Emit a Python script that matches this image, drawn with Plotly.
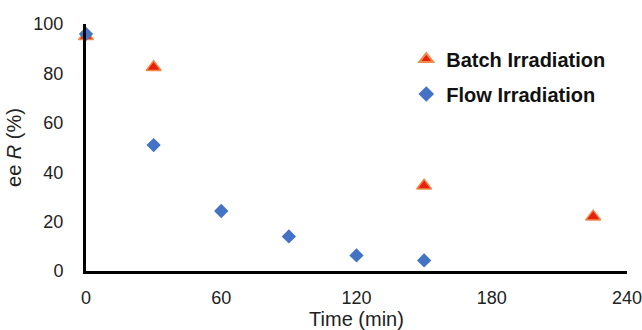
import plotly.graph_objects as go

batch_time = [0, 30, 150, 225]
batch_ee = [95, 82.5, 34.5, 22]
flow_time = [0, 30, 60, 90, 120, 150]
flow_ee = [96, 51, 24.3, 14, 6.3, 4.3]
x_ticks = [0, 60, 120, 180, 240]
y_ticks = [0, 20, 40, 60, 80, 100]

fig = go.Figure()
fig.add_trace(go.Scatter(
    x=batch_time, y=batch_ee, mode="markers", name="Batch Irradiation",
    legendgroup="batch",
    marker=dict(symbol="triangle-up", size=13, color="#E8200C",
                line=dict(color="#F08A4B", width=1.5)),
    cliponaxis=False))
fig.add_trace(go.Scatter(
    x=flow_time, y=flow_ee, mode="markers", name="Flow Irradiation",
    legendgroup="flow",
    marker=dict(symbol="diamond", size=11, color="#4472C4",
                line=dict(color="#4472C4", width=0)),
    cliponaxis=False))

tick_font = dict(family="Liberation Sans, Arial, sans-serif", size=18, color="#222222")
title_font = dict(family="Liberation Sans, Arial, sans-serif", size=20, color="#222222")
fig.update_layout(
    width=642, height=330,
    margin=dict(l=86, r=15, t=24, b=59),
    paper_bgcolor="white", plot_bgcolor="white",
    font=tick_font,
    showlegend=True,
    legend=dict(x=0.592, y=0.937, xanchor="left", yanchor="top",
                font=dict(family="Liberation Sans, Arial, sans-serif", size=20,
                          color="#111111", weight="bold"),
                bgcolor="rgba(0,0,0,0)", itemsizing="constant",
                tracegroupgap=6, itemwidth=30),
    xaxis=dict(range=[0, 240], tickvals=x_ticks, showgrid=False, zeroline=False,
               showline=True, linecolor="black", linewidth=3, ticks="",
               tickfont=tick_font, ticklabelstandoff=8, automargin=False,
               ticklabeloverflow="allow",
               title=dict(text="Time (min)", font=title_font, standoff=1)),
    yaxis=dict(range=[0, 100], tickvals=y_ticks, showgrid=False, zeroline=False,
               showline=True, linecolor="black", linewidth=3, ticks="",
               tickfont=tick_font, ticklabelstandoff=16, automargin=False,
               title=dict(text="ee <i>R</i> (%)", font=title_font, standoff=7)),
)
fig.write_html("out.html")
